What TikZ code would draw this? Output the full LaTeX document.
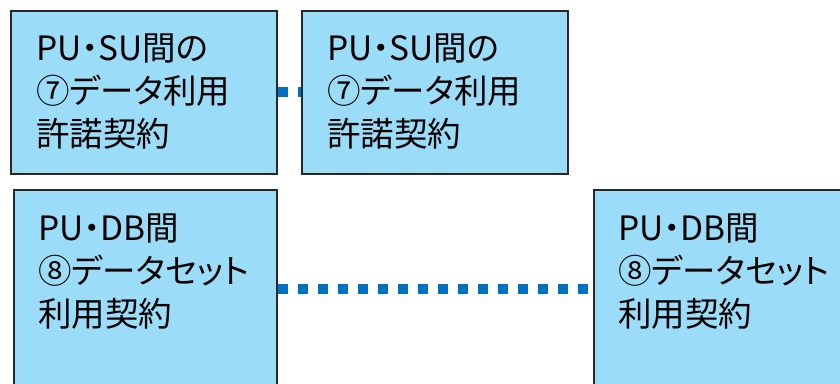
\documentclass[tikz,border=0pt]{standalone}
\usepackage{fontspec}
\newfontfamily\jp[RawFeature=+palt]{Noto Sans CJK JP}
\definecolor{boxfill}{RGB}{155,221,249}
\definecolor{boxline}{RGB}{40,40,40}
\definecolor{dotblue}{RGB}{0,112,192}
\tikzset{
  cbox/.style={draw=boxline, line width=1.5pt, fill=boxfill, rectangle, inner sep=0pt, anchor=north west},
  ctext/.style={anchor=base west, inner sep=0pt, font=\jp\fontsize{33.5}{43}\selectfont, text=black},
  dotline/.style={draw=dotblue, line width=10pt, dash pattern=on 10pt off 10pt, line cap=butt}
}
\newcommand{\lines}[3]{\parbox[t]{260pt}{\raggedright #1\\#2\\#3}}
\begin{document}
\begin{tikzpicture}[x=1pt,y=-1pt]
\useasboundingbox (0,0) rectangle (840,383);
\begin{scope}
\clip (0,0) rectangle (840,383);
\node[cbox, minimum width=266pt, minimum height=163pt] (b1) at (10,10) {};
\node[cbox, minimum width=266pt, minimum height=163pt] (b2) at (301,10) {};
\node[cbox, minimum width=263pt, minimum height=199pt] (b3) at (13,189) {};
\node[cbox, minimum width=263pt, minimum height=199pt] (b4) at (593,189) {};
\node[ctext] (t1) at (36,60) {\lines{PU・SU間の}{⑦データ利用}{許諾契約}};
\node[ctext] (t2) at (327,60) {\lines{PU・SU間の}{⑦データ利用}{許諾契約}};
\node[ctext] (t3) at (38,240) {\lines{PU・DB間}{⑧データセット}{利用契約}};
\node[ctext] (t4) at (618,240) {\lines{PU・DB間}{⑧データセット}{利用契約}};
\draw[dotline] (b1.east) -- (b2.west);
\draw[dotline] (b3.east) -- (b4.west);
\end{scope}
\end{tikzpicture}
\end{document}
